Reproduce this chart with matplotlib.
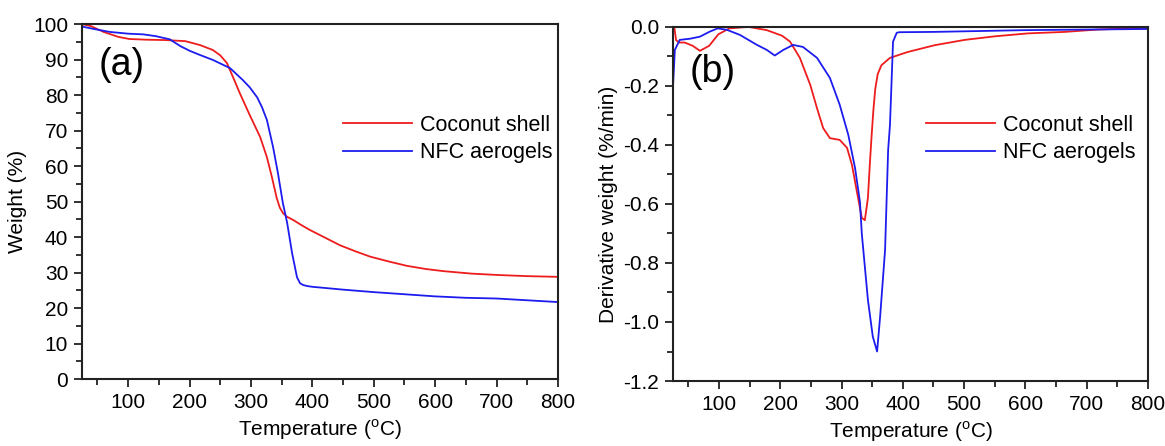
import matplotlib
matplotlib.use("Agg")
import matplotlib.pyplot as plt
from matplotlib.ticker import MultipleLocator, FormatStrFormatter

plt.rcParams['font.family'] = ['Liberation Sans', 'DejaVu Sans']
plt.rcParams['mathtext.fontset'] = 'custom'
plt.rcParams['mathtext.rm'] = 'Liberation Sans'

# TGA curves (weight %)
tga_coco_t = [25, 40, 60, 84, 102, 130, 160, 193, 217, 238, 250, 261, 271, 282, 298,
              315, 326, 334, 342, 347, 352, 358, 369, 382, 396, 420, 445, 470, 494,
              525, 554, 585, 614, 660, 705, 750, 800]
tga_coco_w = [100, 99.4, 97.8, 96.4, 95.8, 95.6, 95.5, 95.2, 94.1, 92.7, 91.2, 89,
              85, 80.5, 74.4, 68.2, 62.5, 57, 51, 48.3, 46.8, 45.8, 44.8, 43.4, 42,
              39.9, 37.7, 36, 34.5, 33.1, 31.9, 31, 30.4, 29.7, 29.3, 29, 28.8]

tga_nfc_t = [25, 45, 70, 100, 125, 145, 168, 185, 200, 217, 238, 266, 287, 298, 310,
             318, 326, 336, 344, 352, 359, 367, 375, 380, 385, 392, 400, 450, 500,
             550, 600, 650, 700, 750, 800]
tga_nfc_w = [99.3, 98.6, 97.8, 97.3, 97.1, 96.6, 95.7, 93.8, 92.5, 91.3, 89.9, 87.6,
             84.2, 82.2, 79.4, 76.6, 73, 65.4, 58, 49.6, 44, 35.5, 28.7, 27, 26.5,
             26.2, 26, 25.2, 24.5, 23.9, 23.3, 22.9, 22.7, 22.2, 21.7]

# DTG curves (%/min)
dtg_coco_t = [27, 30, 35, 44, 57, 69, 84, 99, 117, 148, 178, 203, 216, 232, 249, 260,
              270, 281, 297, 309, 317, 325, 333, 338, 343, 346, 349, 352, 355, 359,
              365, 379, 408, 452, 501, 550, 604, 664, 718, 760, 800]
dtg_coco_d = [0.0, -0.045, -0.053, -0.053, -0.064, -0.081, -0.064, -0.025, -0.005,
              0.0, -0.011, -0.03, -0.05, -0.105, -0.197, -0.276, -0.343, -0.377,
              -0.383, -0.41, -0.468, -0.558, -0.647, -0.655, -0.58, -0.47, -0.37,
              -0.28, -0.21, -0.16, -0.13, -0.105, -0.085, -0.062, -0.044, -0.032,
              -0.022, -0.017, -0.009, -0.006, -0.005]

dtg_nfc_t = [25, 28, 36, 53, 69, 85, 98, 113, 134, 162, 178, 191, 205, 221, 237,
             260, 281, 297, 311, 322, 330, 333, 343, 351, 358, 363, 371, 376, 379,
             384, 390, 394, 450, 500, 600, 700, 800]
dtg_nfc_d = [-0.2, -0.078, -0.044, -0.04, -0.033, -0.016, -0.005, -0.01, -0.027,
             -0.061, -0.078, -0.097, -0.078, -0.061, -0.068, -0.105, -0.173, -0.264,
             -0.366, -0.478, -0.593, -0.70, -0.925, -1.05, -1.10, -0.98, -0.756,
             -0.417, -0.332, -0.05, -0.02, -0.018, -0.017, -0.015, -0.011, -0.009,
             -0.007]

labels = ['Coconut shell', 'NFC aerogels']
red = '#ee1c1c'
blue = '#1c1cee'

fig = plt.figure(figsize=(11.65, 4.46), dpi=100)
ax1 = fig.add_axes([0.0704, 0.150, 0.4086, 0.796])
ax2 = fig.add_axes([0.5777, 0.1457, 0.4077, 0.794])


def style(ax):
    for sp in ax.spines.values():
        sp.set_linewidth(1.5)
        sp.set_color('#222222')
    ax.tick_params(which='both', direction='out', top=False, right=False,
                   labelsize=15, width=1.3, color='#222222')
    ax.tick_params(which='major', length=6, pad=4)
    ax.tick_params(which='minor', length=4)
    ax.set_xlim(25, 800)
    ax.set_xticks([100, 200, 300, 400, 500, 600, 700, 800])
    ax.xaxis.set_minor_locator(MultipleLocator(50))
    ax.set_xlabel(r'Temperature ($^{\rm o}$C)', fontsize=15, labelpad=4)


def add_legend(ax, anchor):
    ax.legend(loc='upper left', bbox_to_anchor=anchor, frameon=False,
              fontsize=15.5, handlelength=3.2, handletextpad=0.4, labelspacing=0.3,
              borderpad=0, borderaxespad=0)


ax1.plot(tga_coco_t, tga_coco_w, color=red, lw=1.3, label=labels[0])
ax1.plot(tga_nfc_t, tga_nfc_w, color=blue, lw=1.3, label=labels[1])
style(ax1)
ax1.set_ylim(0, 100)
ax1.yaxis.set_major_locator(MultipleLocator(10))
ax1.yaxis.set_minor_locator(MultipleLocator(5))
ax1.set_ylabel('Weight (%)', fontsize=15, labelpad=4)
ax1.text(0.034, 0.885, '(a)', transform=ax1.transAxes, fontsize=27, va='center')
add_legend(ax1, (0.548, 0.745))

ax2.plot(dtg_coco_t, dtg_coco_d, color=red, lw=1.3, label=labels[0])
ax2.plot(dtg_nfc_t, dtg_nfc_d, color=blue, lw=1.3, label=labels[1])
style(ax2)
ax2.set_ylim(-1.2, 0.0)
ax2.yaxis.set_major_locator(MultipleLocator(0.2))
ax2.yaxis.set_minor_locator(MultipleLocator(0.1))
ax2.yaxis.set_major_formatter(FormatStrFormatter('%.1f'))
ax2.set_ylabel('Derivative weight (%/min)', fontsize=15, labelpad=4)
ax2.text(0.034, 0.873, '(b)', transform=ax2.transAxes, fontsize=27, va='center')
add_legend(ax2, (0.532, 0.752))

fig.savefig('out.png', dpi=100)
